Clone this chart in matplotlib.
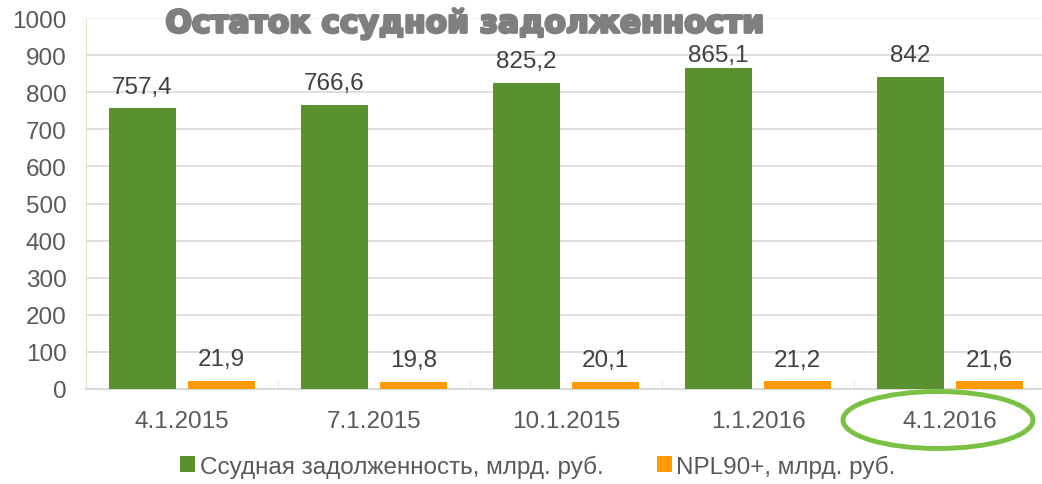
import matplotlib.pyplot as plt
import matplotlib.patheffects as pe
from matplotlib import font_manager
import numpy as np
from matplotlib.patches import Ellipse

dates = ['4.1.2015', '7.1.2015', '10.1.2015', '1.1.2016', '4.1.2016']
loans = [757.4, 766.6, 825.2, 865.1, 842]
npl = [21.9, 19.8, 20.1, 21.2, 21.6]
loans_lbl = ['757,4', '766,6', '825,2', '865,1', '842']
npl_lbl = ['21,9', '19,8', '20,1', '21,2', '21,6']

green = '#5b9030'
orange = '#ff9a00'
plt.rcParams['font.family'] = ['Liberation Sans', 'DejaVu Sans']

names = {f.name for f in font_manager.fontManager.ttflist}
narrow = 'Liberation Sans Narrow' if 'Liberation Sans Narrow' in names else 'Liberation Sans'

fig = plt.figure(figsize=(10.42, 4.85), dpi=100)
ax = fig.add_axes([86/1042, 95/485, 960/1042, 371/485])

x = np.arange(len(dates))
w = 0.35
off = 0.206
b1 = ax.bar(x - off, loans, w, color=green, zorder=3, label='Ссудная задолженность, млрд. руб.')
b2 = ax.bar(x + off, npl, w, color=orange, zorder=3, label='NPL90+, млрд. руб.')

for bars, labels in [(b1, loans_lbl), (b2, npl_lbl)]:
    for rect, t in zip(bars, labels):
        # label of the tallest bar sits lower, under the title
        dy = 1.5 if t == '865,1' else 7.5
        ax.annotate(t, (rect.get_x() + rect.get_width()/2, rect.get_height()),
                    xytext=(0, dy), textcoords='offset points', ha='center', va='bottom',
                    fontsize=17.5, color='#404040')

ax.set_xlim(-0.5, 4.5)
ax.set_ylim(0, 1000)
ax.set_yticks(np.arange(0, 1001, 100))
ax.set_xticks(x)
ax.set_xticklabels(dates)
ax.set_xticks(np.arange(-0.5, 4.6, 0.5), minor=True)
ax.tick_params(axis='x', which='major', length=0, pad=15, labelsize=17.5, labelcolor='#595959')
ax.tick_params(axis='x', which='minor', direction='in', length=5, color='#d9d9d9')
ax.tick_params(axis='y', length=0, pad=14, labelsize=17.5, labelcolor='#595959')

ax.yaxis.grid(True, color='#d9d9d9', linewidth=1.2, zorder=0)
ax.set_axisbelow(True)
ax.spines['right'].set_visible(False)
ax.spines['top'].set_color('#eef4ea')
ax.spines['left'].set_color('#d6ebc8')
ax.spines['bottom'].set_color('#d9d9d9')
ax.spines['bottom'].set_linewidth(1.5)

fig.text(465/1042, 1 - 25/485, 'Остаток ссудной задолженности', ha='center', va='center',
         fontsize=22.5, fontweight='bold', color='#7f7f7f', family='DejaVu Sans',
         path_effects=[pe.withStroke(linewidth=2, foreground='#7f7f7f')])

fig.legend(loc='center', bbox_to_anchor=(538/1042, 1 - 467/485), ncol=2, frameon=False,
           handlelength=0.6, handleheight=0.6, handletextpad=0.2,
           columnspacing=2.2, labelcolor='#595959',
           prop={'family': narrow, 'size': 17.5})

fig.add_artist(Ellipse((938/1042, 1 - 421/485), 190/1042, 57/485, transform=fig.transFigure,
                       fill=False, edgecolor='#7ac143', linewidth=3.5))

fig.savefig('out.png', dpi=100)
